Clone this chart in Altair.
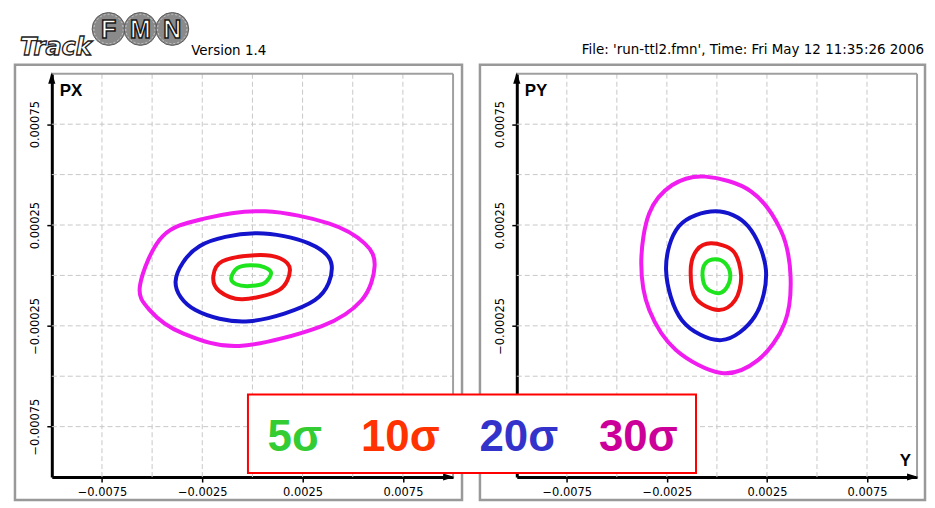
import altair as alt
import pandas as pd

FONT = "Liberation Sans"
WIDE = "DejaVu Sans"

# ---------------- axes / grid values ----------------
X_DOMAIN = [-0.01, 0.01]
Y_DOMAIN = [-0.001, 0.001]
x_tick_values = [-0.0075, -0.0025, 0.0025, 0.0075]
y_tick_values = [-0.00075, -0.00025, 0.00025, 0.00075]
grid_x = [-0.0075, -0.005, -0.0025, 0.0, 0.0025, 0.005, 0.0075]
grid_y = [-0.00075, -0.0005, -0.00025, 0.0, 0.00025, 0.0005, 0.00075]

sigma_labels = ["5σ", "10σ", "20σ", "30σ"]
curve_colors = ["#1ee41e", "#ee1111", "#1414cc", "#f01cf0"]
legend_colors = ["#33cc33", "#ff3300", "#3333cc", "#cc0099"]

header_left = ["Track", "F", "M", "N", "Version 1.4"]
header_right = "File: 'run-ttl2.fmn', Time: Fri May 12 11:35:26 2006"

# ---------------- left panel: X / PX ----------------
xpx_5_x = [-0.00106, -0.00076, -0.00011, 0.00058, 0.00093, 0.00058, -0.00016, -0.00081]
xpx_5_y = [-0.000014, 0.000036, 0.000050, 0.000041, 0.000011, -0.000039, -0.000053, -0.000044]
xpx_10_x = [-0.00195, -0.00150, 0.00013, 0.00137, 0.00187, 0.00132, -0.00051, -0.00165]
xpx_10_y = [-0.000004, 0.000070, 0.000100, 0.000085, 0.000026, -0.000073, -0.000118, -0.000078]
xpx_20_x = [-0.00383, -0.00264, 0.00013, 0.00281, 0.00395, 0.00311, -0.00016, -0.00284]
xpx_20_y = [-0.000029, 0.000145, 0.000209, 0.000159, 0.000050, -0.000123, -0.000227, -0.000172]
xpx_30_x = [-0.00560, -0.00448, -0.00235, 0.00063, 0.00380, 0.00559, 0.00609, 0.00544,
            0.00346, -0.00066, -0.00349, -0.00512]
xpx_30_y = [-0.000047, 0.000194, 0.000283, 0.000318, 0.000258, 0.000159, 0.000046, -0.000123,
            -0.000251, -0.000350, -0.000286, -0.000172]

# ---------------- right panel: Y / PY ----------------
ypy_5_x = [-0.00007, 0.00042, 0.00067, 0.00047, 0.00007, -0.00052, -0.00072, -0.00057]
ypy_5_y = [0.000080, 0.000060, 0.000001, -0.000063, -0.000088, -0.000063, 0.000001, 0.000060]
ypy_10_x = [-0.00027, 0.00082, 0.00121, 0.00091, 0.00007, -0.00106, -0.00131, -0.00101]
ypy_10_y = [0.000159, 0.000120, -0.000004, -0.000123, -0.000172, -0.000113, 0.000026, 0.000125]
ypy_20_x = [-0.00007, 0.00156, 0.00245, 0.00190, 0.00022, -0.00175, -0.00254, -0.00190]
ypy_20_y = [0.000318, 0.000244, 0.000026, -0.000202, -0.000321, -0.000222, 0.000026, 0.000244]
ypy_30_x = [-0.00058, 0.00170, 0.00319, 0.00368, 0.00338, 0.00205, 0.00022, -0.00205,
            -0.00338, -0.00378, -0.00338, -0.00225]
ypy_30_y = [0.000490, 0.000417, 0.000224, -0.000004, -0.000237, -0.000420, -0.000484, -0.000370,
            -0.000172, 0.000060, 0.000308, 0.000447]

# ---------------- layout constants ----------------
HEIGHT = 437
PLOT_TOP = 9
PLOT_BOTTOM = 414
LEFT_W = 449
RIGHT_W = 447


def curves_frame(xs_lists, ys_lists):
    rows = []
    for lab, xs, ys in zip(sigma_labels, xs_lists, ys_lists):
        for i, (a, b) in enumerate(zip(xs, ys)):
            rows.append({"sigma": lab, "i": i, "x": a, "y": b})
    return pd.DataFrame(rows)


def panel(df, width, x_range, h_name, v_name, widths, extra=None):
    xs = alt.Scale(domain=X_DOMAIN, range=x_range, nice=False, zero=False)
    ys = alt.Scale(domain=Y_DOMAIN, range=[PLOT_BOTTOM, PLOT_TOP], nice=False, zero=False)
    common = dict(grid=False, title=None, domainColor="black", domainWidth=3,
                  tickColor="black", tickWidth=1.5, tickSize=5, labelFont=WIDE,
                  labelFontSize=11.5, labelColor="black", labelFlush=False,
                  labelOverlap=False)
    xax = alt.Axis(values=x_tick_values, format=".4f", orient="bottom",
                   offset=PLOT_BOTTOM - HEIGHT, labelPadding=5, **common)
    yax = alt.Axis(values=y_tick_values, format=".5f", orient="left",
                   offset=-x_range[0], labelAngle=270, labelPadding=6, **common)

    def X(f):
        return alt.X(f, type="quantitative", scale=xs, axis=xax)

    def Y(f):
        return alt.Y(f, type="quantitative", scale=ys, axis=yax)

    vgrid = alt.Chart(pd.DataFrame({"gx": grid_x, "y0": Y_DOMAIN[0], "y1": Y_DOMAIN[1]})).mark_rule(
        color="#c8c8c8", strokeDash=[5, 3], strokeWidth=1).encode(x=X("gx"), y=Y("y0"), y2="y1")
    hgrid = alt.Chart(pd.DataFrame({"gy": grid_y, "x0": X_DOMAIN[0], "x1": X_DOMAIN[1]})).mark_rule(
        color="#c8c8c8", strokeDash=[5, 3], strokeWidth=1).encode(y=Y("gy"), x=X("x0"), x2="x1")
    top_border = alt.Chart(pd.DataFrame({"x0": [X_DOMAIN[0]], "x1": [X_DOMAIN[1]], "y": [Y_DOMAIN[1]]})).mark_rule(
        color="#a0a0a0", strokeWidth=2).encode(x=X("x0"), x2="x1", y=Y("y"))
    right_border = alt.Chart(pd.DataFrame({"x": [X_DOMAIN[1]], "y0": [Y_DOMAIN[0]], "y1": [Y_DOMAIN[1]]})).mark_rule(
        color="#a0a0a0", strokeWidth=2).encode(x=X("x"), y=Y("y0"), y2="y1")

    curves = alt.Chart(df).mark_line(interpolate="cardinal-closed").encode(
        x=X("x"), y=Y("y"),
        color=alt.Color("sigma:N", scale=alt.Scale(domain=sigma_labels, range=curve_colors), legend=None),
        strokeWidth=alt.StrokeWidth("sigma:O", scale=alt.Scale(domain=sigma_labels, range=widths), legend=None),
        order="i:Q",
    )

    up = alt.Chart(pd.DataFrame({"x": [X_DOMAIN[0]], "y": [Y_DOMAIN[1]]})).mark_point(
        shape="M0,-0.15L-0.36,1L0.36,1Z", filled=True, color="black", opacity=1, size=400
    ).encode(x=X("x"), y=Y("y"))
    right = alt.Chart(pd.DataFrame({"x": [X_DOMAIN[1]], "y": [Y_DOMAIN[0]]})).mark_point(
        shape="M0.15,0L-1,-0.36L-1,0.36Z", filled=True, color="black", opacity=1, size=400
    ).encode(x=X("x"), y=Y("y"))

    layers = [vgrid, hgrid, top_border, right_border, curves, up, right]

    vtitle = alt.Chart(pd.DataFrame({"x": [X_DOMAIN[0]], "y": [Y_DOMAIN[1]], "t": [v_name]})).mark_text(
        align="left", baseline="middle", dx=8, dy=17, fontSize=17, fontWeight="bold", font=FONT, color="black"
    ).encode(x=X("x"), y=Y("y"), text="t:N")
    layers.append(vtitle)
    if h_name:
        htitle = alt.Chart(pd.DataFrame({"x": [X_DOMAIN[1]], "y": [Y_DOMAIN[0]], "t": [h_name]})).mark_text(
            align="right", baseline="middle", dx=-6, dy=-16, fontSize=17, fontWeight="bold", font=FONT, color="black"
        ).encode(x=X("x"), y=Y("y"), text="t:N")
        layers.append(htitle)
    if extra:
        layers += extra
    return alt.layer(*layers).properties(width=width, height=HEIGHT)


one = pd.DataFrame({"k": [0]})

# ---- logo / header (left) ----
circle_cx = [94, 126, 158]
logo = []
logo.append(alt.Chart(one).mark_text(text=header_left[0], font=WIDE, fontSize=24, fontWeight="bold",
                                     fontStyle="italic", align="left", baseline="alphabetic", fill="white",
                                     stroke="#222222", strokeWidth=1.3)
            .encode(x=alt.value(5), y=alt.value(-10)))
for letter, cx in zip(header_left[1:4], circle_cx):
    logo.append(alt.Chart(one).mark_point(shape="circle", filled=True, fill="#8a8a8a", stroke="#5a5a5a",
                                          strokeWidth=1, opacity=1, size=1089)
                .encode(x=alt.value(cx), y=alt.value(-36)))
    logo.append(alt.Chart(one).mark_point(shape="circle", filled=False, stroke="#c8c8c8", strokeDash=[2, 2],
                                          strokeWidth=1, opacity=1, size=870)
                .encode(x=alt.value(cx), y=alt.value(-36)))
    logo.append(alt.Chart(one).mark_text(text=letter, font=FONT, fontSize=25, fontWeight="bold", fill="white",
                                         stroke="#1a1a1a", strokeWidth=1.5, align="center", baseline="middle")
                .encode(x=alt.value(cx), y=alt.value(-35)))
logo.append(alt.Chart(one).mark_text(text=header_left[4], font=WIDE, fontSize=13.5, align="left",
                                     baseline="alphabetic", color="black")
            .encode(x=alt.value(177), y=alt.value(-10)))

# ---- header (right) + legend box ----
right_extra = []
right_extra.append(alt.Chart(one).mark_text(text=header_right, font=WIDE, fontSize=13.5, align="right",
                                            baseline="alphabetic", color="black")
                   .encode(x=alt.value(RIGHT_W - 1), y=alt.value(-11)))
right_extra.append(alt.Chart(one).mark_rect(fill="white", stroke="#ff0000", strokeWidth=2)
                   .encode(x=alt.value(-233), x2=alt.value(217), y=alt.value(331), y2=alt.value(410)))
legend_cx = [-186, -80, 39, 159]
for lab, col, cx in zip(sigma_labels, legend_colors, legend_cx):
    right_extra.append(alt.Chart(pd.DataFrame({"label": [lab]})).mark_text(
        font=FONT, fontSize=44, fontWeight="bold", align="center", baseline="alphabetic", color=col
    ).encode(x=alt.value(cx), y=alt.value(388), text="label:N"))

left_panel = panel(curves_frame([xpx_5_x, xpx_10_x, xpx_20_x, xpx_30_x],
                                [xpx_5_y, xpx_10_y, xpx_20_y, xpx_30_y]),
                   LEFT_W, [37, 440], None, "PX", [4, 4, 5, 6], extra=logo)
right_panel = panel(curves_frame([ypy_5_x, ypy_10_x, ypy_20_x, ypy_30_x],
                                 [ypy_5_y, ypy_10_y, ypy_20_y, ypy_30_y]),
                    RIGHT_W, [37, 439], "Y", "PY", [4, 4, 5.5, 7.5], extra=right_extra)

chart = alt.hconcat(left_panel, right_panel, spacing=18, bounds="flush").properties(
    padding={"left": 5, "top": 0, "right": 0, "bottom": 0},
    background="white",
).configure_view(stroke="#999999", strokeWidth=2.5)

chart.save("out.html", embed_options={"renderer": "svg", "actions": False})
